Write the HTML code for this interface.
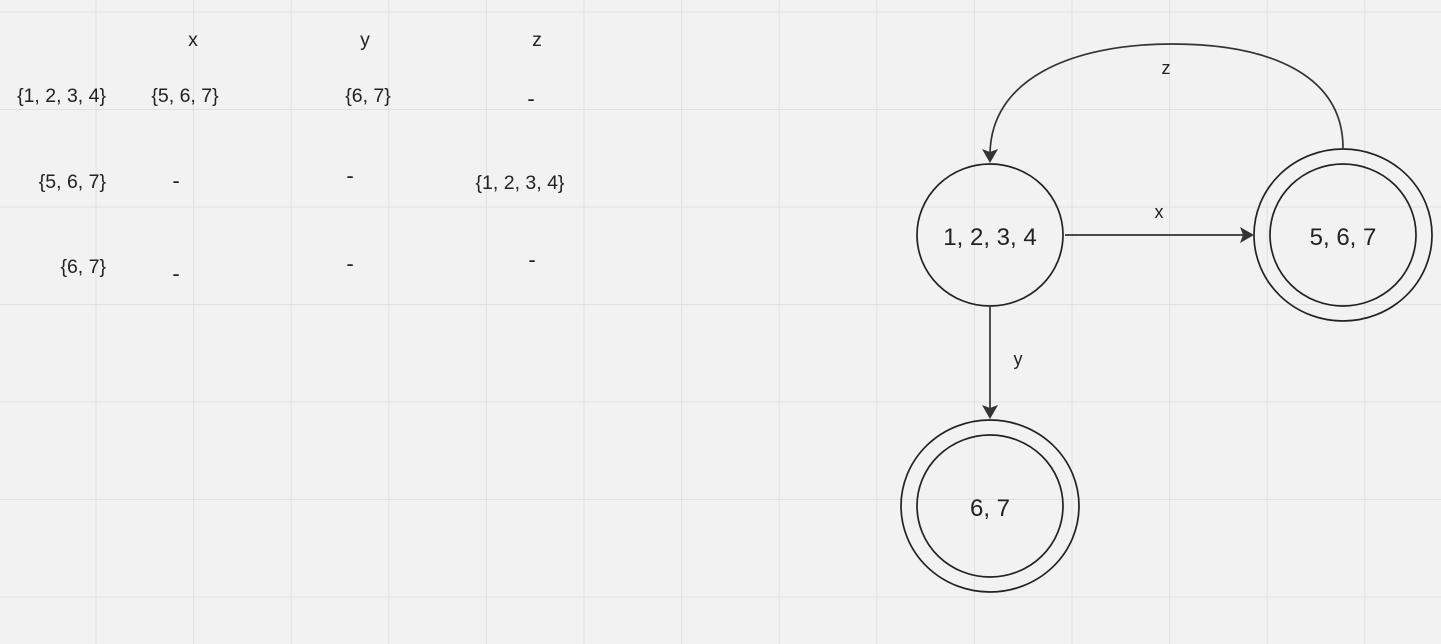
<!DOCTYPE html>
<html><head><meta charset="utf-8"><style>
html,body{margin:0;padding:0;background:#f2f2f2;}
svg{display:block;font-family:"Liberation Sans","DejaVu Sans",sans-serif;fill:#222;}
</style></head><body>
<svg width="1441" height="644" viewBox="0 0 1441 644">
<g id="grid" stroke="#e0e0e0" stroke-width="1"></g>
<g font-size="19.5" fill="#222">
<text x="193" y="46" text-anchor="middle">x</text>
<text x="365" y="46" text-anchor="middle">y</text>
<text x="537" y="46" text-anchor="middle">z</text>
<text x="106" y="102" text-anchor="end">{1, 2, 3, 4}</text>
<text x="106" y="188" text-anchor="end">{5, 6, 7}</text>
<text x="106" y="273" text-anchor="end">{6, 7}</text>
<text x="185" y="102" text-anchor="middle">{5, 6, 7}</text>
<text x="368" y="102" text-anchor="middle">{6, 7}</text>
<text x="531" y="106" text-anchor="middle" font-size="22">-</text>
<text x="176" y="188" text-anchor="middle" font-size="22">-</text>
<text x="350" y="183" text-anchor="middle" font-size="22">-</text>
<text x="520" y="189" text-anchor="middle">{1, 2, 3, 4}</text>
<text x="176" y="281" text-anchor="middle" font-size="22">-</text>
<text x="350" y="271" text-anchor="middle" font-size="22">-</text>
<text x="532" y="267" text-anchor="middle" font-size="22">-</text>
</g>
<g fill="none" stroke="#222" stroke-width="1.7">
<ellipse cx="990" cy="235" rx="73" ry="71"/>
<ellipse cx="1343" cy="235" rx="73" ry="71"/>
<ellipse cx="1343" cy="235" rx="89" ry="86"/>
<ellipse cx="990" cy="506" rx="73" ry="71"/>
<ellipse cx="990" cy="506" rx="89" ry="86"/>
<path d="M1065,235 L1246,235" stroke="#333"/>
<path d="M990,307 L990,410" stroke="#333"/>
<path d="M1343,148 C1343,75 1270,44 1172,44 C1070,44 990,80 990,155" stroke="#333"/>
</g>
<g fill="#333">
<path d="M1254,235 L1240,227 L1243,235 L1240,243 Z"/>
<path d="M990,419 L982,405 L990,408 L998,405 Z"/>
<path d="M990,163 L982,149 L990,152 L998,149 Z"/>
</g>
<g font-size="24" text-anchor="middle" fill="#222">
<text x="990" y="245">1, 2, 3, 4</text>
<text x="1343" y="245">5, 6, 7</text>
<text x="990" y="516">6, 7</text>
</g>
<g font-size="18" text-anchor="middle" fill="#222">
<text x="1159" y="218">x</text>
<text x="1018" y="365">y</text>
<text x="1166" y="74">z</text>
</g>
</svg>
<script>
var g=document.getElementById('grid');
var ns='http://www.w3.org/2000/svg';
for(var i=0;i<15;i++){var x=96+i*97.6;var l=document.createElementNS(ns,'line');l.setAttribute('x1',x);l.setAttribute('x2',x);l.setAttribute('y1',0);l.setAttribute('y2',644);


g.appendChild(l);}
for(var j=0;j<7;j++){var y=12+j*97.5;var h=document.createElementNS(ns,'line');h.setAttribute('x1',0);h.setAttribute('x2',1441);h.setAttribute('y1',y);h.setAttribute('y2',y);


g.appendChild(h);}
</script>
</body></html>
